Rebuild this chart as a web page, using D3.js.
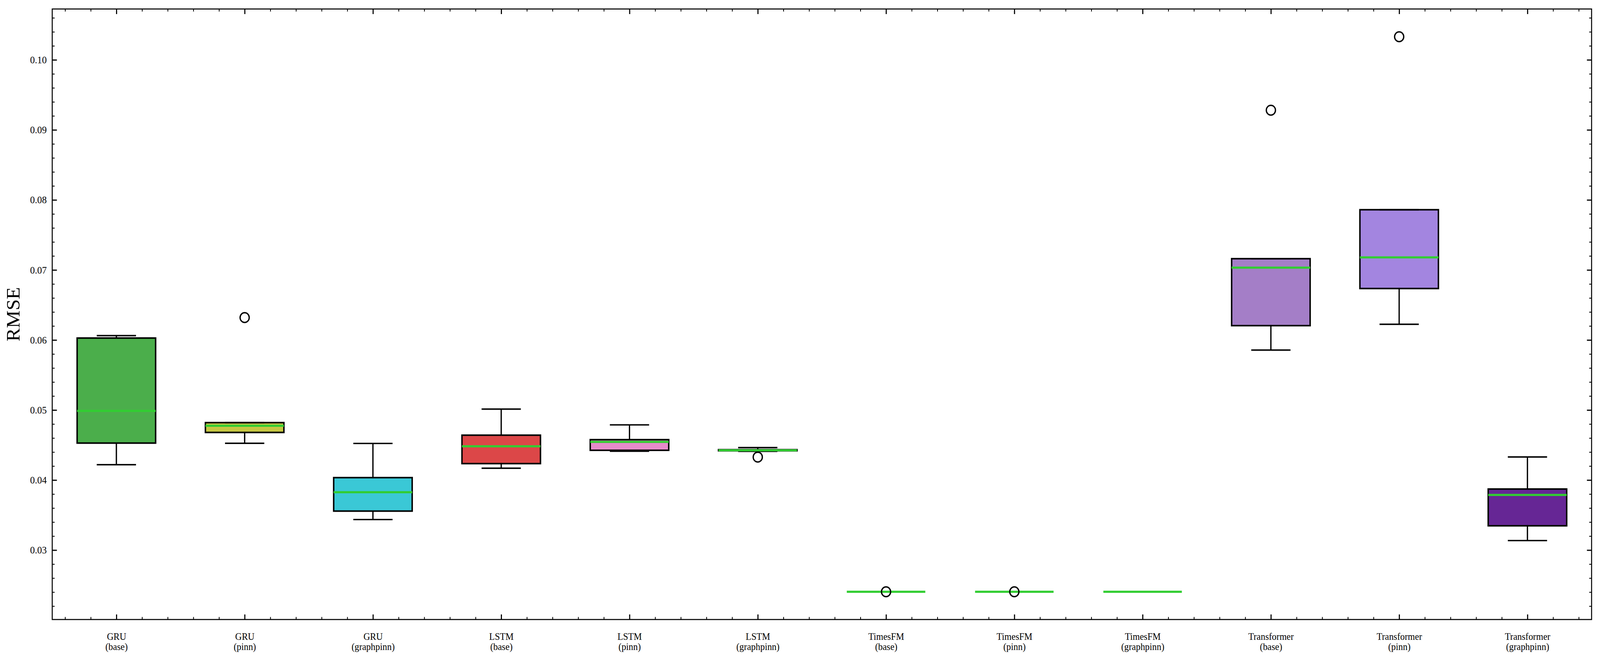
<!DOCTYPE html>
<html>
<head>
<meta charset="utf-8">
<script src="https://cdn.jsdelivr.net/npm/d3@7/dist/d3.min.js"></script>
<style>
  html, body { margin: 0; padding: 0; background: #fff; overflow: hidden; }
  #chart { display: block; width: 100vw; height: 100vh; }
  text { font-family: "Liberation Serif", "Times New Roman", serif; fill: #000; }
</style>
</head>
<body>
<svg id="chart" viewBox="0 0 4371 1686" preserveAspectRatio="none"></svg>
<script>
// model / variant per box, left to right
var models   = ["GRU", "GRU", "GRU", "LSTM", "LSTM", "LSTM",
                "TimesFM", "TimesFM", "TimesFM", "Transformer", "Transformer", "Transformer"];
var variants = ["(base)", "(pinn)", "(graphpinn)", "(base)", "(pinn)", "(graphpinn)",
                "(base)", "(pinn)", "(graphpinn)", "(base)", "(pinn)", "(graphpinn)"];

// five number summaries (RMSE)
var whiskerLow  = [0.0422, 0.04525, 0.03436, 0.04169, 0.04412, 0.04410, 0.02405, 0.02405, 0.02405, 0.05856, 0.06225, 0.03136];
var q1          = [0.04528, 0.0468, 0.03557, 0.04235, 0.04425, 0.04418, 0.02405, 0.02405, 0.02405, 0.06205, 0.06735, 0.03347];
var medians     = [0.04988, 0.04775, 0.03827, 0.04482, 0.04546, 0.04425, 0.02405, 0.02405, 0.02405, 0.07033, 0.07180, 0.03788];
var q3          = [0.06028, 0.0482, 0.04035, 0.04641, 0.04577, 0.04434, 0.02405, 0.02405, 0.02405, 0.07161, 0.07860, 0.03872];
var whiskerHigh = [0.06063, 0.0482, 0.04523, 0.05013, 0.04788, 0.04464, 0.02405, 0.02405, 0.02405, 0.07161, 0.07860, 0.04330];
var outliers    = [[], [0.0632], [], [], [], [0.04328], [0.02405], [0.02405], [], [0.09281], [0.1033], []];

var boxColors = ["#2ca02c", "#bcbd22", "#17becf", "#d62728", "#e377c2", "#7f7f7f",
                 "#1f77b4", "#ff7f0e", "#8c564b", "#9467bd", "#9370db", "#4b0082"];

var yMajor = [0.03, 0.04, 0.05, 0.06, 0.07, 0.08, 0.09, 0.10];

// plot area (window.top is reserved, so prefixed names)
var padL = 142.7, padR = 4348, padT = 23, padB = 1585;

var svg = d3.select("#chart");

// y domain like matplotlib auto margins (5%)
var lo = d3.min([d3.min(whiskerLow), d3.min(outliers.flat())]);
var hi = d3.max([d3.max(whiskerHigh), d3.max(outliers.flat())]);
var pad = (hi - lo) * 0.05;

var x = d3.scaleLinear().domain([0.5, models.length + 0.5]).range([padL, padR]);
var y = d3.scaleLinear().domain([lo - pad, hi + pad]).range([padB, padT]);

var step = x(2) - x(1);
var boxW = step * 0.612;
var capW = boxW / 2;

var idx = d3.range(models.length);

// minor tick positions
var xMinor = d3.range(3, models.length * 5 + 3).map(function(k) { return k * 0.2; })
    .filter(function(v) { return Math.abs(v - Math.round(v)) > 1e-6 && v < models.length + 0.5; });
var yMinor = d3.range(Math.ceil((lo - pad) / 0.002), Math.floor((hi + pad) / 0.002) + 1)
    .map(function(k) { return +(k * 0.002).toFixed(4); })
    .filter(function(v) { return Math.abs(v * 100 - Math.round(v * 100)) > 1e-6; });

// ---- boxes ----
var plot = svg.append("g");

plot.selectAll("rect.box").data(idx).enter().append("rect")
    .attr("class", "box")
    .attr("x", function(i) { return x(i + 1) - boxW / 2; })
    .attr("y", function(i) { return y(q3[i]); })
    .attr("width", boxW)
    .attr("height", function(i) { return Math.max(0, y(q1[i]) - y(q3[i])); })
    .attr("fill", function(i) { return boxColors[i]; })
    .attr("fill-opacity", 0.85)
    .attr("stroke", "#000")
    .attr("stroke-width", 4);

// whiskers
plot.selectAll("line.wlo").data(idx).enter().append("line")
    .attr("x1", function(i) { return x(i + 1); })
    .attr("x2", function(i) { return x(i + 1); })
    .attr("y1", function(i) { return y(q1[i]); })
    .attr("y2", function(i) { return y(whiskerLow[i]); })
    .attr("stroke", "#000").attr("stroke-width", 3.5);
plot.selectAll("line.whi").data(idx).enter().append("line")
    .attr("x1", function(i) { return x(i + 1); })
    .attr("x2", function(i) { return x(i + 1); })
    .attr("y1", function(i) { return y(q3[i]); })
    .attr("y2", function(i) { return y(whiskerHigh[i]); })
    .attr("stroke", "#000").attr("stroke-width", 3.5);

// caps
[whiskerLow, whiskerHigh].forEach(function(arr) {
    plot.append("g").selectAll("line").data(idx).enter().append("line")
        .attr("x1", function(i) { return x(i + 1) - capW / 2; })
        .attr("x2", function(i) { return x(i + 1) + capW / 2; })
        .attr("y1", function(i) { return y(arr[i]); })
        .attr("y2", function(i) { return y(arr[i]); })
        .attr("stroke", "#000").attr("stroke-width", 3.7);
});

// medians
plot.selectAll("line.med").data(idx).enter().append("line")
    .attr("x1", function(i) { return x(i + 1) - boxW / 2; })
    .attr("x2", function(i) { return x(i + 1) + boxW / 2; })
    .attr("y1", function(i) { return y(medians[i]); })
    .attr("y2", function(i) { return y(medians[i]); })
    .attr("stroke", "#32cd32").attr("stroke-width", 5.5);

// fliers
var fl = [];
outliers.forEach(function(arr, i) { arr.forEach(function(v) { fl.push({i: i, v: v}); }); });
plot.selectAll("circle.flier").data(fl).enter().append("circle")
    .attr("cx", function(d) { return x(d.i + 1); })
    .attr("cy", function(d) { return y(d.v); })
    .attr("r", 12.5)
    .attr("fill", "none")
    .attr("stroke", "#000")
    .attr("stroke-width", 3.5);

// ---- axes (ticks inward on all four sides) ----
function styleTicks(g, w) {
    g.select(".domain").remove();
    g.selectAll(".tick line").attr("stroke", "#000").attr("stroke-width", w);
}

svg.append("g").attr("transform", "translate(" + padL + ",0)")
    .call(d3.axisLeft(y).tickValues(yMinor).tickSize(-6.5).tickFormat(""))
    .call(styleTicks, 2.2);
svg.append("g").attr("transform", "translate(" + padR + ",0)")
    .call(d3.axisRight(y).tickValues(yMinor).tickSize(-6.5).tickFormat(""))
    .call(styleTicks, 2.2);
svg.append("g").attr("transform", "translate(0," + padB + ")")
    .call(d3.axisBottom(x).tickValues(xMinor).tickSize(-6.5).tickFormat(""))
    .call(styleTicks, 2.2);
svg.append("g").attr("transform", "translate(0," + padT + ")")
    .call(d3.axisTop(x).tickValues(xMinor).tickSize(-6.5).tickFormat(""))
    .call(styleTicks, 2.2);

var yAxis = svg.append("g").attr("transform", "translate(" + padL + ",0)")
    .call(d3.axisLeft(y).tickValues(yMajor).tickSize(-12.7).tickPadding(15).tickFormat(d3.format(".2f")))
    .call(styleTicks, 3);
yAxis.selectAll(".tick text")
    .attr("font-family", "Liberation Serif")
    .attr("font-size", 26)
    .attr("fill", "#000");

svg.append("g").attr("transform", "translate(" + padR + ",0)")
    .call(d3.axisRight(y).tickValues(yMajor).tickSize(-12.7).tickFormat(""))
    .call(styleTicks, 3);
svg.append("g").attr("transform", "translate(0," + padT + ")")
    .call(d3.axisTop(x).tickValues(idx.map(function(i) { return i + 1; })).tickSize(-13).tickFormat(""))
    .call(styleTicks, 3);

var xAxis = svg.append("g").attr("transform", "translate(0," + padB + ")")
    .call(d3.axisBottom(x).tickValues(idx.map(function(i) { return i + 1; })).tickSize(-13).tickFormat(""))
    .call(styleTicks, 3);

// two-line category labels
xAxis.selectAll(".tick").each(function(d) {
    var t = d3.select(this).append("text")
        .attr("text-anchor", "middle")
        .attr("font-family", "Liberation Serif")
        .attr("font-size", 25)
        .attr("fill", "#000")
        .attr("y", 52);
    t.append("tspan").attr("x", 0).text(models[d - 1]);
    t.append("tspan").attr("x", 0).attr("dy", 26.5).text(variants[d - 1]);
});

// frame
svg.append("rect")
    .attr("x", padL).attr("y", padT)
    .attr("width", padR - padL).attr("height", padB - padT)
    .attr("fill", "none").attr("stroke", "#000").attr("stroke-width", 2.7);

// y label
svg.append("text")
    .attr("transform", "translate(53," + ((padT + padB) / 2) + ") rotate(-90)")
    .attr("text-anchor", "middle")
    .attr("font-size", 51)
    .text("RMSE");
</script>
</body>
</html>
